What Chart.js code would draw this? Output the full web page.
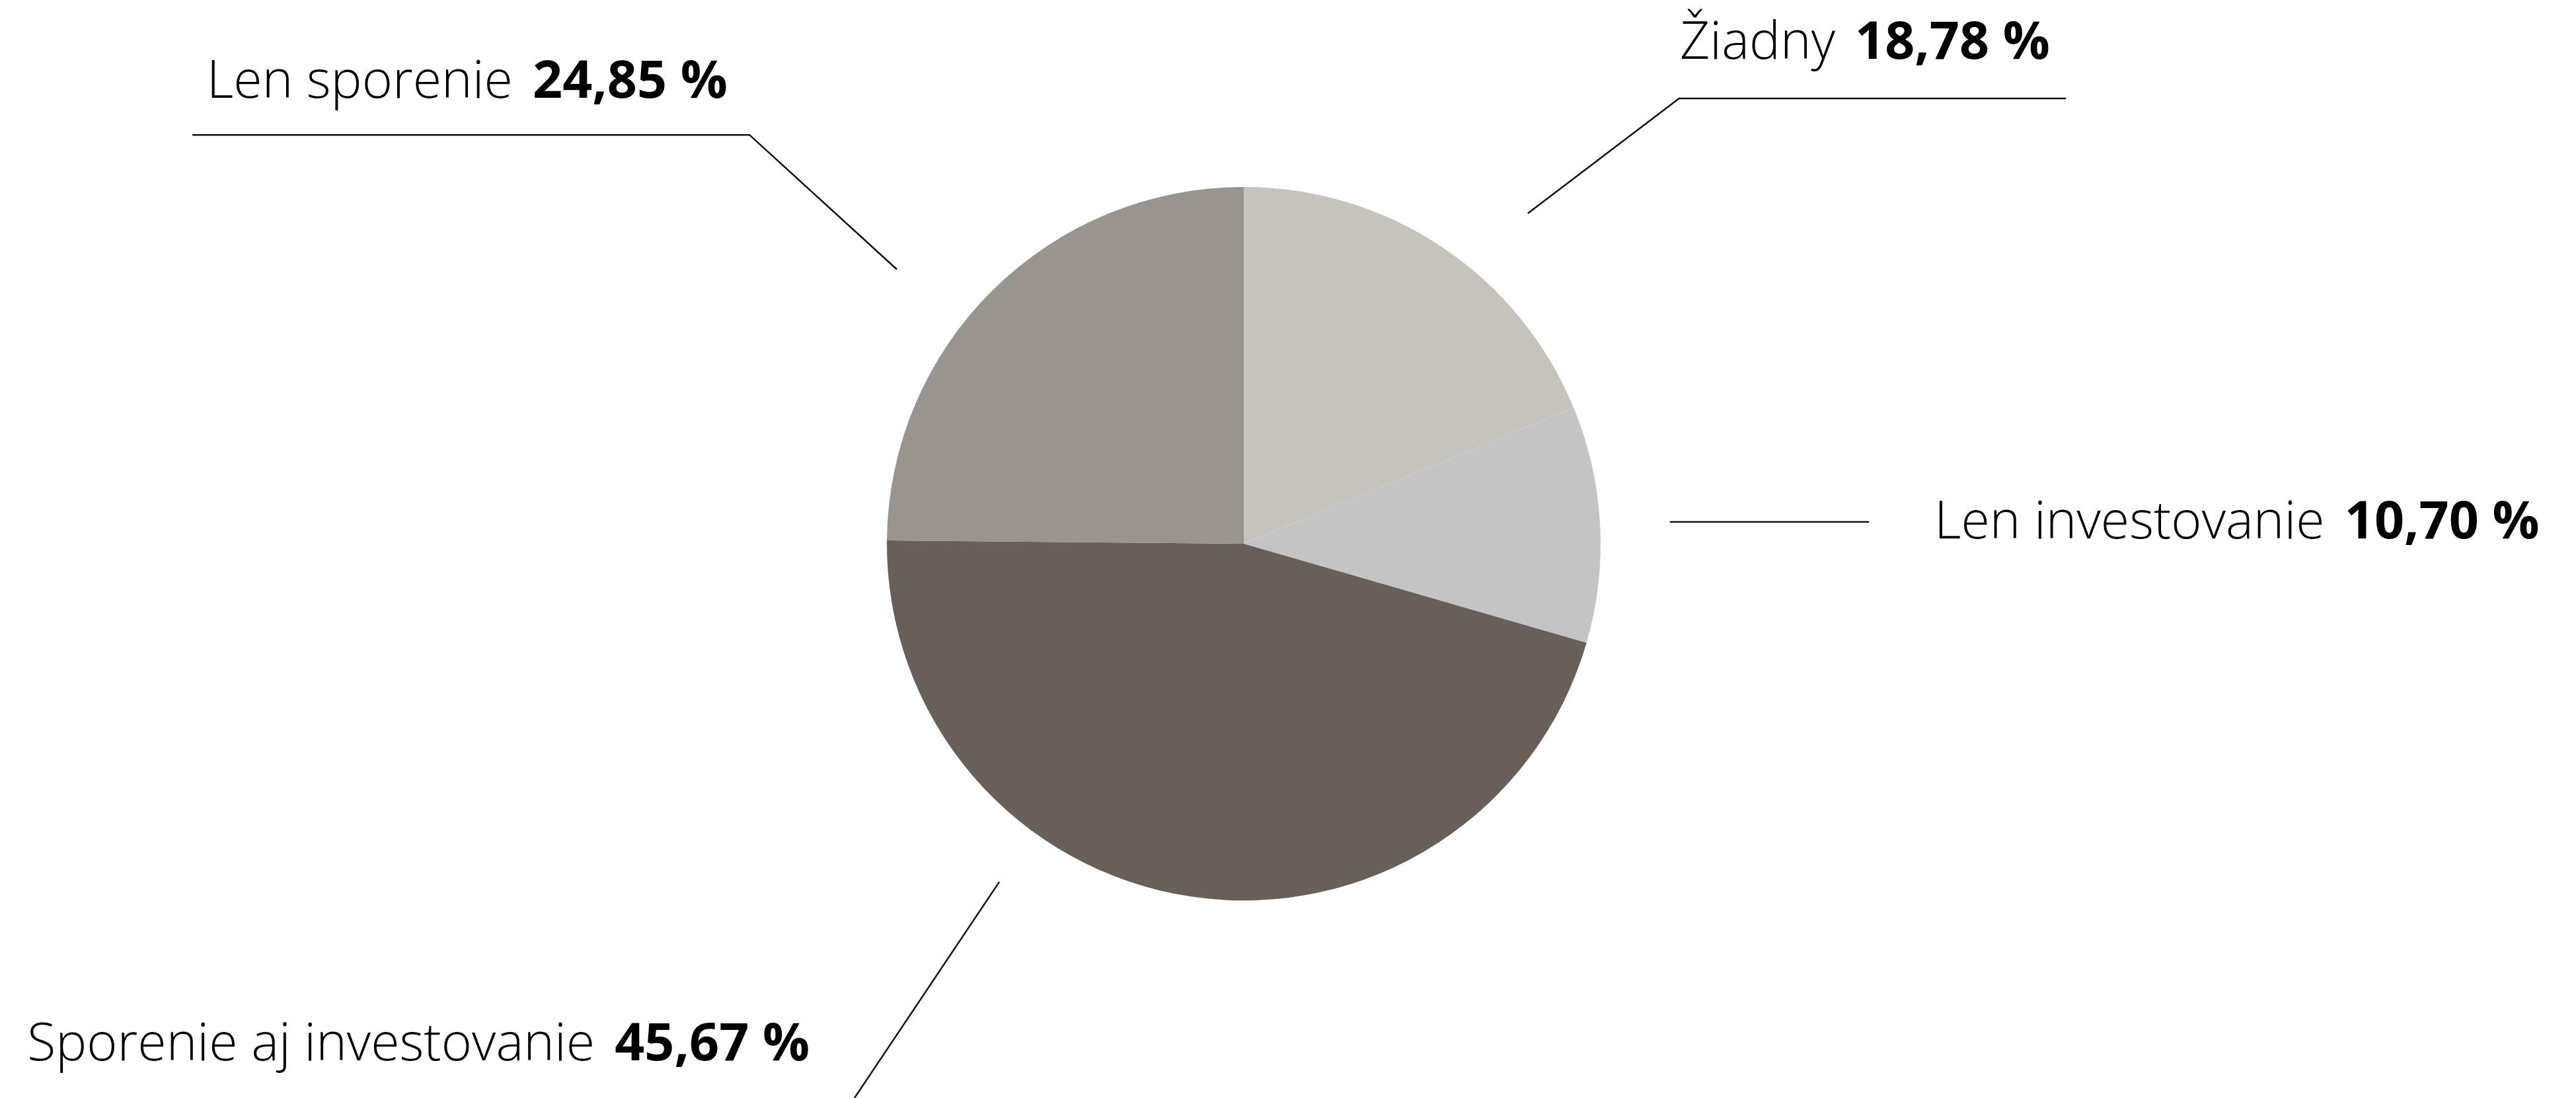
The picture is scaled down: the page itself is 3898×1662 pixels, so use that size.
<!DOCTYPE html>
<html>
<head>
<meta charset="utf-8">
<script src="https://cdn.jsdelivr.net/npm/chart.js@4"></script>
<style>
  html, body { margin: 0; padding: 0; background: #fff; }
  #wrap { width: 3898px; height: 1662px; }
</style>
</head>
<body>
<div id="wrap"><canvas id="savingsPie"></canvas></div>
<script>
const categories = ["Žiadny", "Len investovanie", "Sporenie aj investovanie", "Len sporenie"];
const shares = [18.78, 10.70, 45.67, 24.85];
const colors = ["#c6c3bd", "#c4c4c4", "#685f59", "#99948d"];

// leader lines and label anchors, in pie radii from the centre
const callouts = [
    { line: [[0.796, -0.926], [1.220, -1.248], [2.304, -1.248]], text: [1.222, -1.359] },
    { line: [[1.194, -0.061], [1.752, -0.061]], text: [1.935, -0.015] },
    { line: [[-0.685, 0.948], [-1.091, 1.554]], text: [-3.409, 1.448] },
    { line: [[-0.972, -0.769], [-1.385, -1.146], [-2.946, -1.146]], text: [-2.906, -1.25] }
];

function pct(v) {
    return v.toFixed(2).replace(".", ",") + " %";
}

const calloutPlugin = {
    id: "callouts",
    afterDatasetsDraw(chart) {
        const ctx = chart.ctx;
        const arc = chart.getDatasetMeta(0).data[0];
        const cx = arc.x, cy = arc.y, r = arc.outerRadius;

        ctx.save();
        ctx.strokeStyle = "#111";
        ctx.lineWidth = 2.5;
        ctx.fillStyle = "#000";
        ctx.textBaseline = "alphabetic";
        ctx.textAlign = "left";

        callouts.forEach((c, i) => {
            ctx.beginPath();
            c.line.forEach((p, j) => {
                const x = cx + p[0] * r, y = cy + p[1] * r;
                if (j === 0) ctx.moveTo(x, y); else ctx.lineTo(x, y);
            });
            ctx.stroke();

            const tx = cx + c.text[0] * r, ty = cy + c.text[1] * r;
            ctx.font = "300 79px 'Open Sans'";
            ctx.fillText(categories[i], tx, ty);
            const w = ctx.measureText(categories[i]).width;
            ctx.font = "700 79px 'Open Sans'";
            ctx.fillText(pct(shares[i]), tx + w + 30, ty);
        });
        ctx.restore();
    }
};

new Chart(document.getElementById("savingsPie"), {
    type: "pie",
    data: {
        labels: categories,
        datasets: [{
            data: shares,
            backgroundColor: colors,
            borderWidth: 0
        }]
    },
    options: {
        responsive: true,
        maintainAspectRatio: false,
        animation: false,
        layout: { padding: { left: 1342, right: 1476, top: 283, bottom: 299 } },
        plugins: {
            legend: { display: false },
            tooltip: { enabled: false }
        }
    },
    plugins: [calloutPlugin]
});
</script>
</body>
</html>
